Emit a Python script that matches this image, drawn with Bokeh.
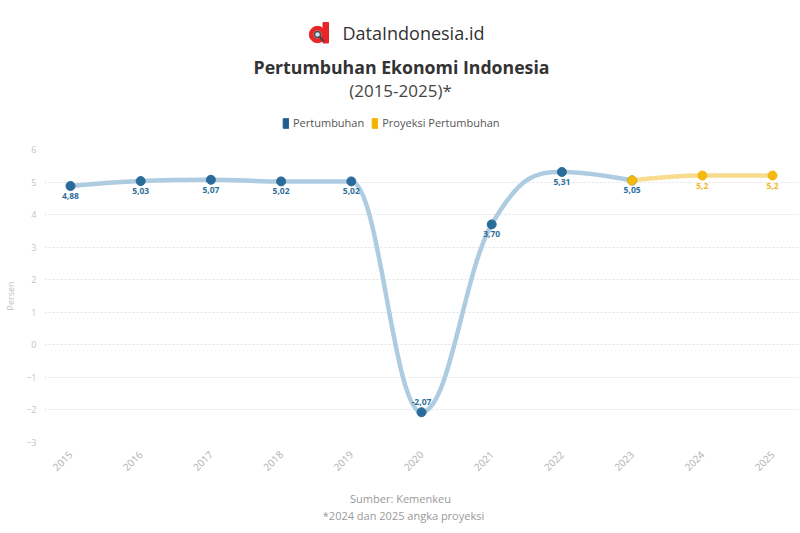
import numpy as np
from bokeh.plotting import figure
from bokeh.models import (ColumnDataSource, Legend, LegendItem, FixedTicker, Range1d)
from bokeh.layouts import column
from bokeh.core.properties import value
from bokeh.embed import file_html
from bokeh.resources import INLINE

# ---------------- data ----------------
years = ["2015", "2016", "2017", "2018", "2019", "2020", "2021", "2022", "2023", "2024", "2025"]
growth_years = ["2015", "2016", "2017", "2018", "2019", "2020", "2021", "2022", "2023"]
growth = [4.88, 5.03, 5.07, 5.02, 5.02, -2.07, 3.70, 5.31, 5.05]
growth_labels = ["4,88", "5,03", "5,07", "5,02", "5,02", "-2,07", "3,70", "5,31", "5,05"]
proj_years = ["2023", "2024", "2025"]
proj = [5.05, 5.2, 5.2]
proj_labels = ["", "5,2", "5,2"]
y_ticks = [-3, -2, -1, 0, 1, 2, 3, 4, 5, 6]

FONT = "Open Sans"
BLUE_LINE = "#adcce1"
BLUE_PT = "#2a6c99"
BLUE_TXT = "#2f6f9c"
YEL_LINE = "#f8dc8e"
YEL_PT = "#f3b90f"
YEL_TXT = "#efb92a"

W = 800
FL, FR = 44, 798          # frame left/right (page px); all figures share it (column aligns frames)


def spline(xs, ys, smoothing=1.5):
    """Highcharts-style spline control points -> list of bezier segments."""
    n = len(xs)
    denom = smoothing + 1
    lcx, lcy = list(xs), list(ys)
    rcx, rcy = list(xs), list(ys)
    for i in range(1, n - 1):
        px, py = xs[i], ys[i]
        lx, ly = xs[i - 1], ys[i - 1]
        nx, ny = xs[i + 1], ys[i + 1]
        lX = (smoothing * px + lx) / denom
        lY = (smoothing * py + ly) / denom
        rX = (smoothing * px + nx) / denom
        rY = (smoothing * py + ny) / denom
        corr = 0.0
        if rX != lX:
            corr = ((rY - lY) * (rX - px)) / (rX - lX) + py - rY
        lY += corr
        rY += corr
        if lY > ly and lY > py:
            lY = max(ly, py); rY = 2 * py - lY
        elif lY < ly and lY < py:
            lY = min(ly, py); rY = 2 * py - lY
        if rY > ny and rY > py:
            rY = max(ny, py); lY = 2 * py - rY
        elif rY < ny and rY < py:
            rY = min(ny, py); lY = 2 * py - rY
        lcx[i], lcy[i], rcx[i], rcy[i] = lX, lY, rX, rY
    seg = dict(x0=[], y0=[], x1=[], y1=[], cx0=[], cy0=[], cx1=[], cy1=[])
    for i in range(1, n):
        seg["x0"].append(xs[i - 1]); seg["y0"].append(ys[i - 1])
        seg["cx0"].append(rcx[i - 1]); seg["cy0"].append(rcy[i - 1])
        seg["cx1"].append(lcx[i]); seg["cy1"].append(lcy[i])
        seg["x1"].append(xs[i]); seg["y1"].append(ys[i])
    return seg


gx = [years.index(y) for y in growth_years]
px_ = [years.index(y) for y in proj_years]


def blank_fig(height):
    f = figure(width=W, height=height, x_range=Range1d(FL, FR), y_range=Range1d(height, 0),
               output_backend="svg", toolbar_location=None, min_border=0,
               min_border_left=FL, min_border_right=W - FR,
               x_axis_location=None, y_axis_location=None)
    f.grid.visible = False
    f.outline_line_color = None
    return f


# ---------------- header figure (data coords == page px) ----------------
HH = 133
h = blank_fig(HH)

# logo icon
h.annulus(x=[317], y=[34], inner_radius=4.4, outer_radius=8.2, color="#e8262a")
h.quad(left=[322.5], right=[328], top=[22], bottom=[42.5], color="#e8262a")
h.circle(x=[317], y=[34], radius=3.0, fill_color="#cfe3ee", line_color="#444444", line_width=1.4)
h.segment(x0=[319.2], y0=[36.2], x1=[323.5], y1=[41], line_color="#444444", line_width=2)

h.text(x=[342], y=[32], text=["DataIndonesia.id"], text_font=value(FONT),
       text_font_size="18px", text_color="#333333", text_baseline="middle", text_align="left")
h.text(x=[401], y=[66], text=["Pertumbuhan Ekonomi Indonesia"], text_font=value(FONT),
       text_font_size="17.7px", text_font_style="bold", text_color="#333333",
       text_baseline="middle", text_align="center")
h.text(x=[400], y=[90], text=["(2015-2025)*"], text_font=value(FONT),
       text_font_size="17px", text_color="#444444", text_baseline="middle", text_align="center")

r_leg1 = h.quad(left=[-1000], right=[-999], top=[-1000], bottom=[-999],
                fill_color="#1f5f8c", line_color="#1f5f8c")
r_leg2 = h.quad(left=[-1000], right=[-999], top=[-1000], bottom=[-999],
                fill_color="#f5b301", line_color="#f5b301")
legend = Legend(items=[LegendItem(label="Pertumbuhan", renderers=[r_leg1]),
                       LegendItem(label="Proyeksi Pertumbuhan", renderers=[r_leg2])],
                orientation="horizontal", location=(282 - FL, 3), padding=0, margin=0,
                glyph_width=7, glyph_height=12, label_height=14, label_standoff=4, spacing=7,
                label_text_font=FONT, label_text_font_size="11px", label_text_color="#555555",
                background_fill_alpha=0, border_line_color=None)
h.add_layout(legend, "center")

# ---------------- main chart ----------------
p = figure(width=W, height=16 + 293 + 40, x_range=Range1d(-0.370, 10.37), y_range=Range1d(-3, 6),
           output_backend="svg", toolbar_location=None,
           min_border_left=FL, min_border_right=W - FR, min_border_top=16, min_border_bottom=40)
p.outline_line_color = None
p.xgrid.visible = False
p.ygrid.grid_line_color = "#e3e3e3"
p.ygrid.grid_line_dash = "2 2"
p.ygrid.grid_line_width = 1

p.yaxis.ticker = FixedTicker(ticks=y_ticks)
p.yaxis.axis_line_color = None
p.yaxis.major_tick_line_color = None
p.yaxis.minor_tick_line_color = None
p.yaxis.major_tick_out = 0
p.yaxis.minor_tick_out = 0
p.yaxis.major_label_text_color = "#c4c4c4"
p.yaxis.major_label_text_font = FONT
p.yaxis.major_label_text_font_size = "9px"
p.yaxis.major_label_standoff = 8
p.yaxis.axis_label = "Persen"
p.yaxis.axis_label_text_font = FONT
p.yaxis.axis_label_text_font_size = "9px"
p.yaxis.axis_label_text_font_style = "normal"
p.yaxis.axis_label_text_color = "#c4c4c4"
p.yaxis.axis_label_standoff = 6

p.xaxis.ticker = FixedTicker(ticks=list(range(len(years))))
p.xaxis.major_label_overrides = {i: y for i, y in enumerate(years)}
p.xaxis.major_label_orientation = np.pi / 4
p.xaxis.axis_line_color = None
p.xaxis.major_tick_line_color = None
p.xaxis.minor_tick_line_color = None
p.xaxis.major_tick_out = 0
p.xaxis.minor_tick_out = 0
p.xaxis.major_label_text_color = "#b0b0b0"
p.xaxis.major_label_text_font = FONT
p.xaxis.major_label_text_font_size = "10px"
p.xaxis.major_label_standoff = 10

# lines (spline)
p.bezier(source=ColumnDataSource(spline(gx, growth)), x0="x0", y0="y0", x1="x1", y1="y1",
         cx0="cx0", cy0="cy0", cx1="cx1", cy1="cy1", line_color=BLUE_LINE, line_width=4.5,
         line_cap="round")
p.bezier(source=ColumnDataSource(spline(px_, proj)), x0="x0", y0="y0", x1="x1", y1="y1",
         cx0="cx0", cy0="cy0", cx1="cx1", cy1="cy1", line_color=YEL_LINE, line_width=4.5,
         line_cap="round")

gsrc = ColumnDataSource(dict(x=gx, y=growth, lab=growth_labels))
psrc = ColumnDataSource(dict(x=px_, y=proj, lab=proj_labels))
p.scatter("x", "y", source=gsrc, size=9, fill_color=BLUE_PT, line_color=BLUE_PT)
p.scatter("x", "y", source=psrc, size=9, fill_color=YEL_PT, line_color=YEL_PT)

# data labels (below points, except the trough which sits above)
below_idx = [i for i in range(len(growth)) if growth[i] > 0]
above_idx = [i for i in range(len(growth)) if growth[i] <= 0]
p.text(x=[gx[i] for i in below_idx], y=[growth[i] for i in below_idx],
       text=[growth_labels[i] for i in below_idx], y_offset=7,
       text_font=value(FONT), text_font_size="8.5px", text_font_style="bold",
       text_color=BLUE_TXT, text_align="center", text_baseline="top")
p.text(x=[gx[i] for i in above_idx], y=[growth[i] for i in above_idx],
       text=[growth_labels[i] for i in above_idx], y_offset=-7,
       text_font=value(FONT), text_font_size="8.5px", text_font_style="bold",
       text_color=BLUE_TXT, text_align="center", text_baseline="bottom")
p.text("x", "y", text="lab", source=psrc, y_offset=7,
       text_font=value(FONT), text_font_size="8.5px", text_font_style="bold",
       text_color=YEL_TXT, text_align="center", text_baseline="top")

# ---------------- footer figure (data coords == page px - 482) ----------------
FH = 48
f = blank_fig(FH)
f.text(x=[400], y=[16], text=["Sumber: Kemenkeu"], text_font=value(FONT),
       text_font_size="11px", text_color="#9a9a9a", text_baseline="middle", text_align="center")
f.text(x=[403], y=[33], text=["*2024 dan 2025 angka proyeksi"], text_font=value(FONT),
       text_font_size="11px", text_color="#9a9a9a", text_baseline="middle", text_align="center")

layout = column(h, p, f, spacing=0)
open("out.html", "w").write(file_html(layout, INLINE))
